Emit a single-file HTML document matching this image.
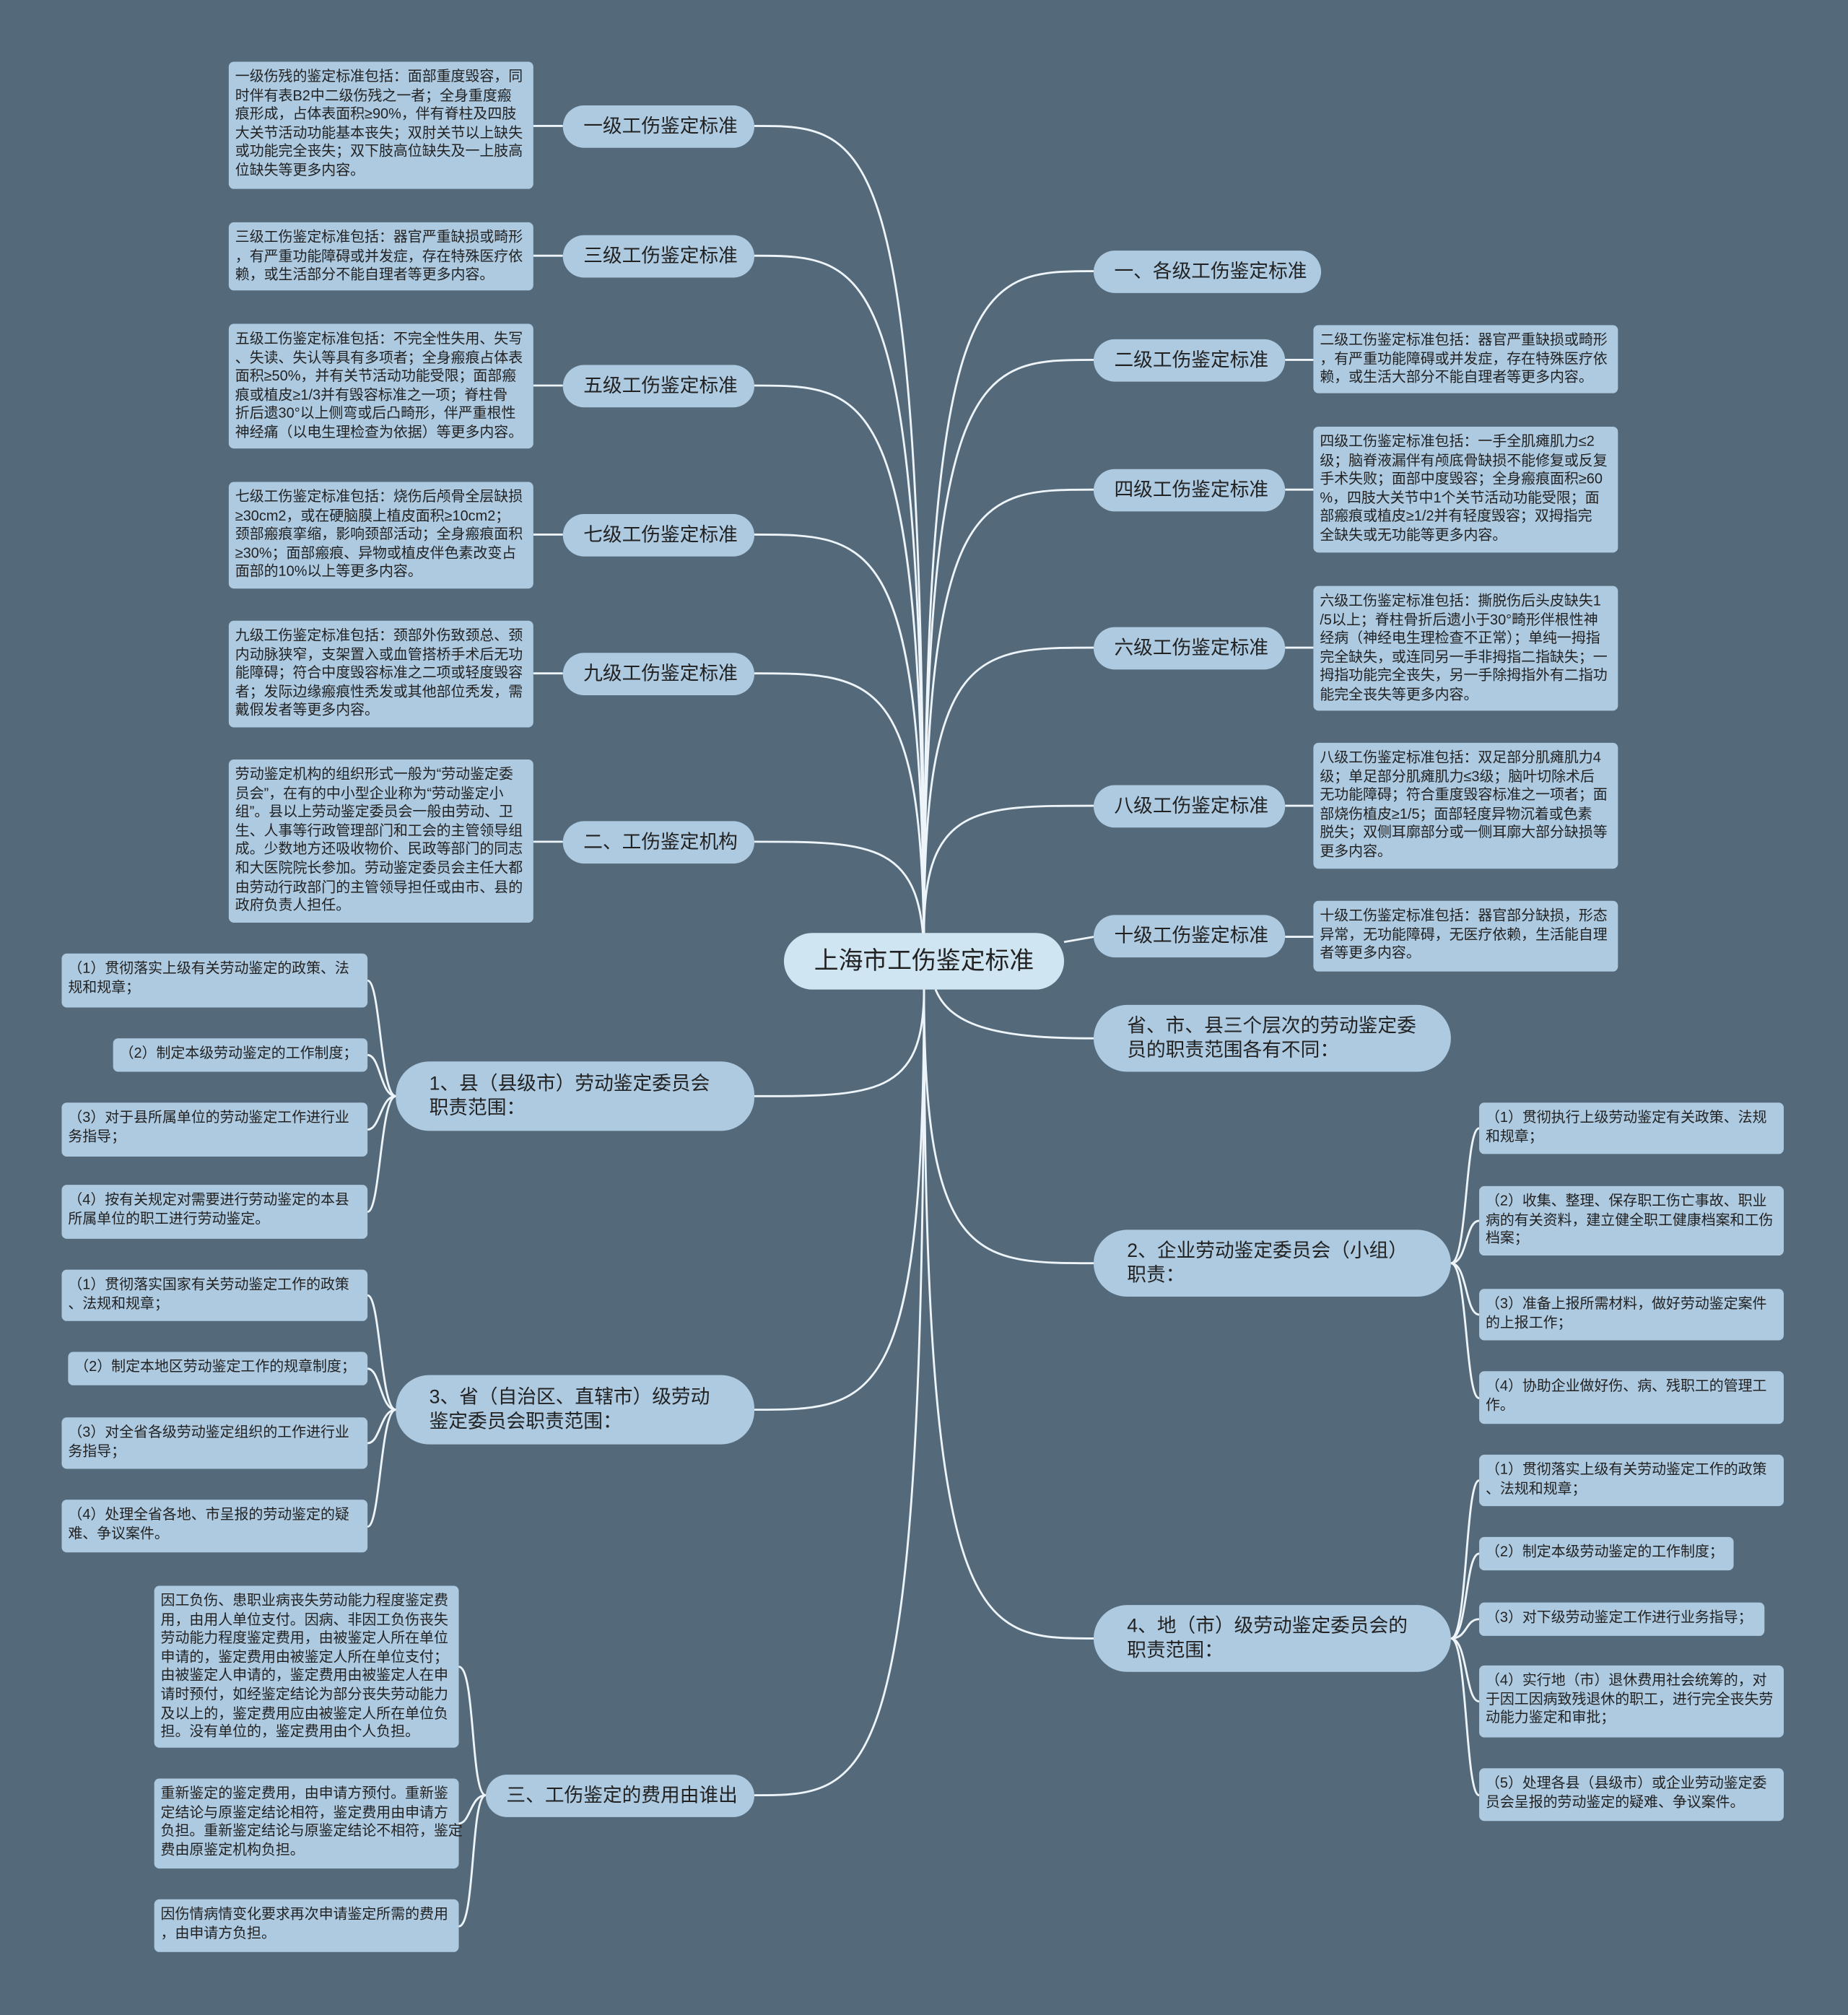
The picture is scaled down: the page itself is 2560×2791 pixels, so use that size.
<!DOCTYPE html>
<html><head><meta charset="utf-8"><style>
html,body{margin:0;padding:0;background:#546a7a;}
#w{position:relative;width:1438px;height:1568px;transform:scale(1.78025,1.77997);transform-origin:0 0;font-family:"Liberation Sans","Noto Sans CJK SC",sans-serif;}
.b{position:absolute;background:#adcae1;border-radius:17px;color:#222;font-size:15px;display:flex;align-items:center;box-sizing:border-box;padding:0 16px;white-space:nowrap;line-height:19px;}
.b2{border-radius:26px;padding:0 26px;}
.l{position:absolute;background:#adcae1;border-radius:4px;color:#222;font-size:11.2px;line-height:14.6px;box-sizing:border-box;padding:5px 5px;white-space:nowrap;}
svg{position:absolute;left:0;top:0;}
</style></head><body><div id="w">
<svg width="1438" height="1568" fill="none" stroke="#eef5fa" stroke-width="1.6">
<!-- root to left branches -->
<path d="M719 748 C719 98 680 98 587 98"/>
<path d="M719 748 C719 199 680 199 587 199"/>
<path d="M719 748 C719 300 680 300 587 300"/>
<path d="M719 748 C719 416 680 416 587 416"/>
<path d="M719 748 C719 524 680 524 587 524"/>
<path d="M719 748 C719 655 680 655 587 655"/>
<path d="M719 770 C719 853 680 853 587 853"/>
<path d="M719 770 C719 1097 680 1097 587 1097"/>
<path d="M719 770 C719 1397 680 1397 587 1397"/>
<!-- root to right branches -->
<path d="M719 726 C719 211 760 211 851 211"/>
<path d="M719 726 C719 280 760 280 851 280"/>
<path d="M719 726 C719 381 760 381 851 381"/>
<path d="M719 726 C719 504 760 504 851 504"/>
<path d="M719 726 C719 627 760 627 851 627"/>
<path d="M828 733 L851 729"/>
<path d="M728 770 C740 800 780 808 851 808"/>
<path d="M719 770 C719 983 760 983 851 983"/>
<path d="M719 770 C719 1275 760 1275 851 1275"/>
<!-- leaf links single -->
<path d="M438 98 L415 98"/><path d="M438 199 L415 199"/><path d="M438 300 L415 300"/><path d="M438 416 L415 416"/><path d="M438 524 L415 524"/><path d="M438 655 L415 655"/>
<path d="M1000 280 L1022 280"/><path d="M1000 381 L1022 381"/><path d="M1000 504 L1022 504"/><path d="M1000 627 L1022 627"/><path d="M1000 729 L1022 729"/>
<!-- bracket left 1 -->
<path d="M308 853 C296 853 296 763 286 763"/><path d="M308 853 C296 853 296 821 286 821"/><path d="M308 853 C296 853 296 879 286 879"/><path d="M308 853 C296 853 296 943 286 943"/>
<path d="M308 1097 C296 1097 296 1008 286 1008"/><path d="M308 1097 C296 1097 296 1065 286 1065"/><path d="M308 1097 C296 1097 296 1123 286 1123"/><path d="M308 1097 C296 1097 296 1188 286 1188"/>
<path d="M378 1397 C366 1397 370 1297 357 1297"/><path d="M378 1397 C366 1397 366 1419 357 1419"/><path d="M378 1397 C366 1397 370 1499 357 1499"/>
<!-- bracket right -->
<path d="M1129 983 C1142 983 1140 878 1151 878"/><path d="M1129 983 C1142 983 1140 950 1151 950"/><path d="M1129 983 C1142 983 1140 1023 1151 1023"/><path d="M1129 983 C1142 983 1140 1088 1151 1088"/>
<path d="M1129 1275 C1142 1275 1140 1152 1151 1152"/><path d="M1129 1275 C1142 1275 1140 1209 1151 1209"/><path d="M1129 1275 C1142 1275 1140 1260 1151 1260"/><path d="M1129 1275 C1142 1275 1140 1324 1151 1324"/><path d="M1129 1275 C1142 1275 1140 1397 1151 1397"/>
</svg>

<div class="b" style="left:610px;top:726px;width:218px;height:44px;background:#cfe5f1;border-radius:22px;font-size:19px;justify-content:center;padding:0;">上海市工伤鉴定标准</div>

<div class="b" style="left:438px;top:82px;width:149px;height:33px;">一级工伤鉴定标准</div>
<div class="b" style="left:438px;top:183px;width:149px;height:33px;">三级工伤鉴定标准</div>
<div class="b" style="left:438px;top:284px;width:149px;height:33px;">五级工伤鉴定标准</div>
<div class="b" style="left:438px;top:400px;width:149px;height:33px;">七级工伤鉴定标准</div>
<div class="b" style="left:438px;top:508px;width:149px;height:33px;">九级工伤鉴定标准</div>
<div class="b" style="left:438px;top:639px;width:149px;height:33px;">二、工伤鉴定机构</div>
<div class="b b2" style="left:308px;top:826px;width:279px;height:54px;">1、县（县级市）劳动鉴定委员会<br>职责范围：</div>
<div class="b b2" style="left:308px;top:1070px;width:279px;height:54px;">3、省（自治区、直辖市）级劳动<br>鉴定委员会职责范围：</div>
<div class="b" style="left:378px;top:1381px;width:209px;height:33px;">三、工伤鉴定的费用由谁出</div>

<div class="b" style="left:851px;top:195px;width:177px;height:33px;">一、各级工伤鉴定标准</div>
<div class="b" style="left:851px;top:264px;width:149px;height:33px;">二级工伤鉴定标准</div>
<div class="b" style="left:851px;top:365px;width:149px;height:33px;">四级工伤鉴定标准</div>
<div class="b" style="left:851px;top:488px;width:149px;height:33px;">六级工伤鉴定标准</div>
<div class="b" style="left:851px;top:611px;width:149px;height:33px;">八级工伤鉴定标准</div>
<div class="b" style="left:851px;top:712px;width:149px;height:33px;">十级工伤鉴定标准</div>
<div class="b b2" style="left:851px;top:782px;width:278px;height:52px;">省、市、县三个层次的劳动鉴定委<br>员的职责范围各有不同：</div>
<div class="b b2" style="left:851px;top:957px;width:278px;height:52px;">2、企业劳动鉴定委员会（小组）<br>职责：</div>
<div class="b b2" style="left:851px;top:1249px;width:278px;height:52px;">4、地（市）级劳动鉴定委员会的<br>职责范围：</div>

<div class="l" style="left:178px;top:48px;width:237px;height:99px;">一级伤残的鉴定标准包括：面部重度毁容，同<br>时伴有表B2中二级伤残之一者；全身重度瘢<br>痕形成，占体表面积≥90%，伴有脊柱及四肢<br>大关节活动功能基本丧失；双肘关节以上缺失<br>或功能完全丧失；双下肢高位缺失及一上肢高<br>位缺失等更多内容。</div>
<div class="l" style="left:178px;top:173px;width:237px;height:53px;">三级工伤鉴定标准包括：器官严重缺损或畸形<br>，有严重功能障碍或并发症，存在特殊医疗依<br>赖，或生活部分不能自理者等更多内容。</div>
<div class="l" style="left:178px;top:252px;width:237px;height:97px;">五级工伤鉴定标准包括：不完全性失用、失写<br>、失读、失认等具有多项者；全身瘢痕占体表<br>面积≥50%，并有关节活动功能受限；面部瘢<br>痕或植皮≥1/3并有毁容标准之一项；脊柱骨<br>折后遗30°以上侧弯或后凸畸形，伴严重根性<br>神经痛（以电生理检查为依据）等更多内容。</div>
<div class="l" style="left:178px;top:375px;width:237px;height:83px;">七级工伤鉴定标准包括：烧伤后颅骨全层缺损<br>≥30cm2，或在硬脑膜上植皮面积≥10cm2；<br>颈部瘢痕挛缩，影响颈部活动；全身瘢痕面积<br>≥30%；面部瘢痕、异物或植皮伴色素改变占<br>面部的10%以上等更多内容。</div>
<div class="l" style="left:178px;top:483px;width:237px;height:83px;">九级工伤鉴定标准包括：颈部外伤致颈总、颈<br>内动脉狭窄，支架置入或血管搭桥手术后无功<br>能障碍；符合中度毁容标准之二项或轻度毁容<br>者；发际边缘瘢痕性秃发或其他部位秃发，需<br>戴假发者等更多内容。</div>
<div class="l" style="left:178px;top:591px;width:237px;height:127px;">劳动鉴定机构的组织形式一般为“劳动鉴定委<br>员会”，在有的中小型企业称为“劳动鉴定小<br>组”。县以上劳动鉴定委员会一般由劳动、卫<br>生、人事等行政管理部门和工会的主管领导组<br>成。少数地方还吸收物价、民政等部门的同志<br>和大医院院长参加。劳动鉴定委员会主任大都<br>由劳动行政部门的主管领导担任或由市、县的<br>政府负责人担任。</div>

<div class="l" style="left:48px;top:742px;width:238px;height:42px;">（1）贯彻落实上级有关劳动鉴定的政策、法<br>规和规章；</div>
<div class="l" style="left:88px;top:808px;width:198px;height:26px;">（2）制定本级劳动鉴定的工作制度；</div>
<div class="l" style="left:48px;top:858px;width:238px;height:42px;">（3）对于县所属单位的劳动鉴定工作进行业<br>务指导；</div>
<div class="l" style="left:48px;top:922px;width:238px;height:42px;">（4）按有关规定对需要进行劳动鉴定的本县<br>所属单位的职工进行劳动鉴定。</div>

<div class="l" style="left:48px;top:988px;width:238px;height:40px;">（1）贯彻落实国家有关劳动鉴定工作的政策<br>、法规和规章；</div>
<div class="l" style="left:53px;top:1052px;width:233px;height:26px;">（2）制定本地区劳动鉴定工作的规章制度；</div>
<div class="l" style="left:48px;top:1103px;width:238px;height:40px;">（3）对全省各级劳动鉴定组织的工作进行业<br>务指导；</div>
<div class="l" style="left:48px;top:1167px;width:238px;height:41px;">（4）处理全省各地、市呈报的劳动鉴定的疑<br>难、争议案件。</div>

<div class="l" style="left:120px;top:1234px;width:237px;height:126px;">因工负伤、患职业病丧失劳动能力程度鉴定费<br>用，由用人单位支付。因病、非因工负伤丧失<br>劳动能力程度鉴定费用，由被鉴定人所在单位<br>申请的，鉴定费用由被鉴定人所在单位支付；<br>由被鉴定人申请的，鉴定费用由被鉴定人在申<br>请时预付，如经鉴定结论为部分丧失劳动能力<br>及以上的，鉴定费用应由被鉴定人所在单位负<br>担。没有单位的，鉴定费用由个人负担。</div>
<div class="l" style="left:120px;top:1384px;width:237px;height:70px;">重新鉴定的鉴定费用，由申请方预付。重新鉴<br>定结论与原鉴定结论相符，鉴定费用由申请方<br>负担。重新鉴定结论与原鉴定结论不相符，鉴定<br>费由原鉴定机构负担。</div>
<div class="l" style="left:120px;top:1478px;width:237px;height:41px;">因伤情病情变化要求再次申请鉴定所需的费用<br>，由申请方负担。</div>

<div class="l" style="left:1022px;top:253px;width:237px;height:53px;">二级工伤鉴定标准包括：器官严重缺损或畸形<br>，有严重功能障碍或并发症，存在特殊医疗依<br>赖，或生活大部分不能自理者等更多内容。</div>
<div class="l" style="left:1022px;top:332px;width:237px;height:98px;">四级工伤鉴定标准包括：一手全肌瘫肌力≤2<br>级；脑脊液漏伴有颅底骨缺损不能修复或反复<br>手术失败；面部中度毁容；全身瘢痕面积≥60<br>%，四肢大关节中1个关节活动功能受限；面<br>部瘢痕或植皮≥1/2并有轻度毁容；双拇指完<br>全缺失或无功能等更多内容。</div>
<div class="l" style="left:1022px;top:456px;width:237px;height:97px;">六级工伤鉴定标准包括：撕脱伤后头皮缺失1<br>/5以上；脊柱骨折后遗小于30°畸形伴根性神<br>经病（神经电生理检查不正常）；单纯一拇指<br>完全缺失，或连同另一手非拇指二指缺失；一<br>拇指功能完全丧失，另一手除拇指外有二指功<br>能完全丧失等更多内容。</div>
<div class="l" style="left:1022px;top:578px;width:237px;height:98px;">八级工伤鉴定标准包括：双足部分肌瘫肌力4<br>级；单足部分肌瘫肌力≤3级；脑叶切除术后<br>无功能障碍；符合重度毁容标准之一项者；面<br>部烧伤植皮≥1/5；面部轻度异物沉着或色素<br>脱失；双侧耳廓部分或一侧耳廓大部分缺损等<br>更多内容。</div>
<div class="l" style="left:1022px;top:701px;width:237px;height:55px;">十级工伤鉴定标准包括：器官部分缺损，形态<br>异常，无功能障碍，无医疗依赖，生活能自理<br>者等更多内容。</div>

<div class="l" style="left:1151px;top:858px;width:237px;height:40px;">（1）贯彻执行上级劳动鉴定有关政策、法规<br>和规章；</div>
<div class="l" style="left:1151px;top:923px;width:237px;height:54px;">（2）收集、整理、保存职工伤亡事故、职业<br>病的有关资料，建立健全职工健康档案和工伤<br>档案；</div>
<div class="l" style="left:1151px;top:1003px;width:237px;height:40px;">（3）准备上报所需材料，做好劳动鉴定案件<br>的上报工作；</div>
<div class="l" style="left:1151px;top:1067px;width:237px;height:41px;">（4）协助企业做好伤、病、残职工的管理工<br>作。</div>

<div class="l" style="left:1151px;top:1132px;width:237px;height:40px;">（1）贯彻落实上级有关劳动鉴定工作的政策<br>、法规和规章；</div>
<div class="l" style="left:1151px;top:1196px;width:198px;height:26px;">（2）制定本级劳动鉴定的工作制度；</div>
<div class="l" style="left:1151px;top:1247px;width:222px;height:26px;">（3）对下级劳动鉴定工作进行业务指导；</div>
<div class="l" style="left:1151px;top:1296px;width:237px;height:56px;">（4）实行地（市）退休费用社会统筹的，对<br>于因工因病致残退休的职工，进行完全丧失劳<br>动能力鉴定和审批；</div>
<div class="l" style="left:1151px;top:1376px;width:237px;height:41px;">（5）处理各县（县级市）或企业劳动鉴定委<br>员会呈报的劳动鉴定的疑难、争议案件。</div>
</div></body></html>
